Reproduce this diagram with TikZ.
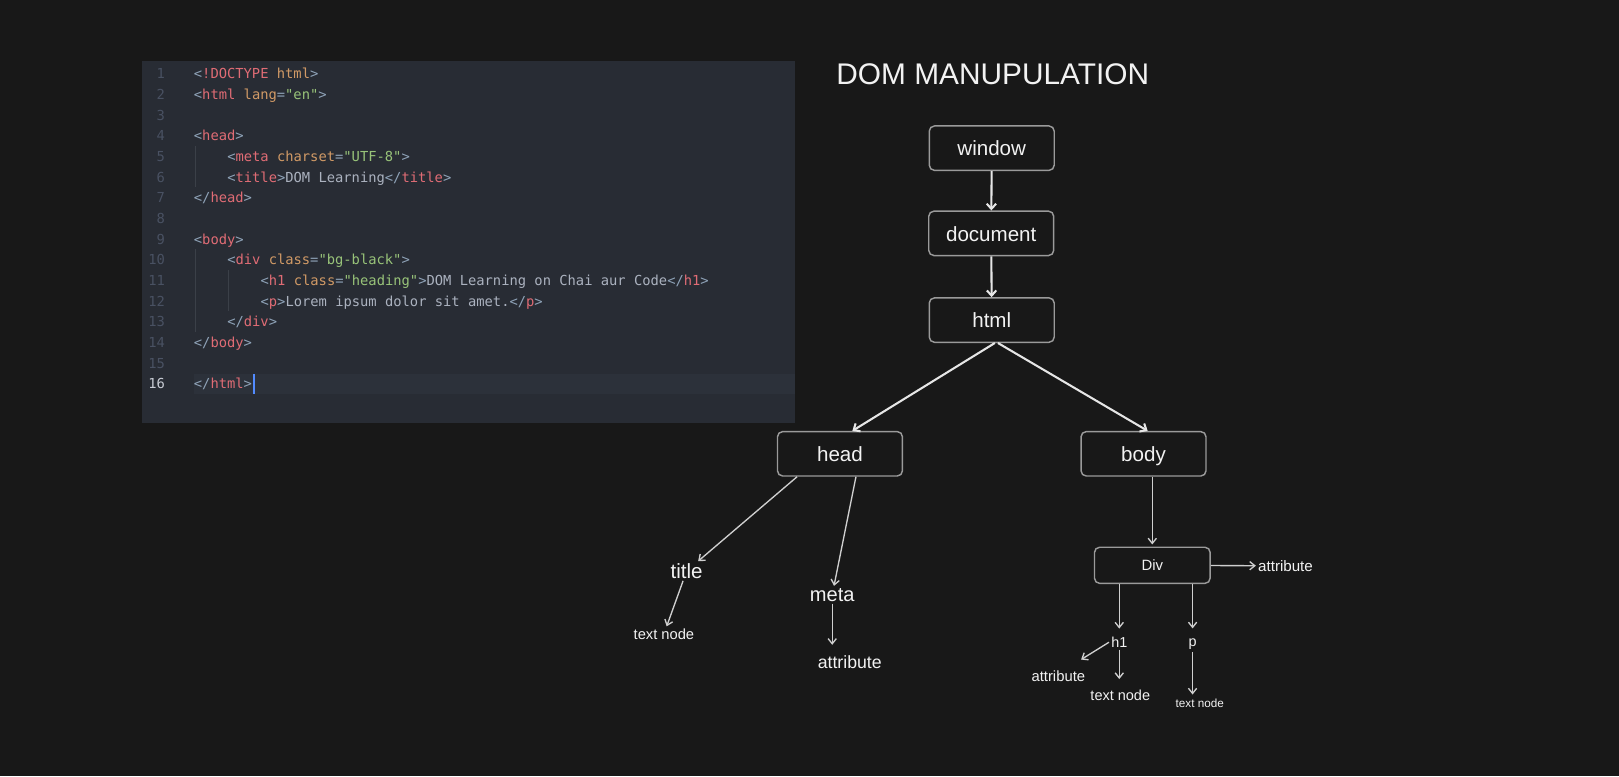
\documentclass[tikz,border=0pt]{standalone}
\usepackage{fontspec}
\setmainfont{Liberation Sans}
\newfontfamily\codefont{DejaVu Sans Mono}
\usetikzlibrary{arrows.meta,calc}
\definecolor{bgc}{HTML}{181818}
\definecolor{panel}{HTML}{282C34}
\definecolor{curline}{HTML}{2C313A}
\definecolor{lnum}{HTML}{495162}
\definecolor{lnumcur}{HTML}{C8CCD4}
\definecolor{ctagc}{HTML}{E06C75}
\definecolor{cattrc}{HTML}{D19A66}
\definecolor{cstrc}{HTML}{98C379}
\definecolor{cpunc}{HTML}{8FA3B8}
\definecolor{ctxtc}{HTML}{ABB2BF}
\definecolor{guide}{HTML}{3B4048}
\definecolor{cursorc}{HTML}{528BFF}
\definecolor{boxline}{HTML}{9A9A9A}
\definecolor{arrowc}{HTML}{E6E6E6}
\definecolor{arrowc2}{HTML}{CFCFCF}
\definecolor{txt}{HTML}{F2F2F2}
\newcommand\ktag[1]{\textcolor{ctagc}{#1}}
\newcommand\kattr[1]{\textcolor{cattrc}{#1}}
\newcommand\kstr[1]{\textcolor{cstrc}{#1}}
\newcommand\kpun[1]{\textcolor{cpunc}{#1}}
\newcommand\ktxt[1]{\textcolor{ctxtc}{#1}}
\newcommand\fsz[1]{\fontsize{#1}{#1}\selectfont}
\begin{document}
\begin{tikzpicture}[x=1bp,y=-1bp,
  codeline/.style={anchor=base west, inner sep=0, font=\codefont\fsz{13.4}},
  lno/.style={anchor=base east, inner sep=0, font=\codefont\fsz{13.4}, text=lnum},
  domnode/.style={draw=boxline, line width=1.4bp, rounded corners=5bp, fill=bgc, text=txt, font=\fsz{20}, minimum width=121bp, minimum height=43bp, inner sep=0, text height=17bp, text depth=2bp},
  lbl/.style={text=txt, inner sep=2bp},
  arrA/.style={draw=arrowc, line width=2bp, -{Straight Barb[length=5bp,width=9bp]}},
  arrB/.style={draw=arrowc2, line width=1.3bp, -{Straight Barb[length=5bp,width=8bp]}},
]
\useasboundingbox (0,0) rectangle (1568,751.6);
\fill[bgc] (0,0) rectangle (1568,751.6);
% code panel
\fill[panel] (137.5,59) rectangle (770,410);
\fill[curline] (188,362) rectangle (770,382);
\draw[guide, line width=1bp] (189,141.5) -- (189,181.5);
\draw[guide, line width=1bp] (189,241.5) -- (189,321.5);
\draw[guide, line width=1bp] (221.5,261.5) -- (221.5,301.5);
\foreach \n in {1,...,15} \node[lno] (n\n) at (160,{76.5+20*(\n-1)}) {\n};
\node[lno, text=lnumcur] (n16) at (160,376.5) {16};
\node[codeline] (l1) at (187.6,76.5) {\kpun{<}\ktag{!DOCTYPE} \kattr{html}\kpun{>}};
\node[codeline] (l2) at (187.6,96.5) {\kpun{<}\ktag{html} \kattr{lang}\kpun{=}\kstr{"en"}\kpun{>}};
\node[codeline] (l4) at (187.6,136.5) {\kpun{<}\ktag{head}\kpun{>}};
\node[codeline] (l5) at (219.9,156.5) {\kpun{<}\ktag{meta} \kattr{charset}\kpun{=}\kstr{"UTF-8"}\kpun{>}};
\node[codeline] (l6) at (219.9,176.5) {\kpun{<}\ktag{title}\kpun{>}\ktxt{DOM Learning}\kpun{</}\ktag{title}\kpun{>}};
\node[codeline] (l7) at (187.6,196.5) {\kpun{</}\ktag{head}\kpun{>}};
\node[codeline] (l9) at (187.6,236.5) {\kpun{<}\ktag{body}\kpun{>}};
\node[codeline] (l10) at (219.9,256.5) {\kpun{<}\ktag{div} \kattr{class}\kpun{=}\kstr{"bg-black"}\kpun{>}};
\node[codeline] (l11) at (252.2,276.5) {\kpun{<}\ktag{h1} \kattr{class}\kpun{=}\kstr{"heading"}\kpun{>}\ktxt{DOM Learning on Chai aur Code}\kpun{</}\ktag{h1}\kpun{>}};
\node[codeline] (l12) at (252.2,296.5) {\kpun{<}\ktag{p}\kpun{>}\ktxt{Lorem ipsum dolor sit amet.}\kpun{</}\ktag{p}\kpun{>}};
\node[codeline] (l13) at (219.9,316.5) {\kpun{</}\ktag{div}\kpun{>}};
\node[codeline] (l14) at (187.6,336.5) {\kpun{</}\ktag{body}\kpun{>}};
\node[codeline] (l16) at (187.6,376.5) {\kpun{</}\ktag{html}\kpun{>}};
\fill[cursorc] ($(l16.base east)+(1,-14.5)$) rectangle ++(2,20);
% DOM tree
\node[font=\fsz{29}, text=txt, inner sep=0] (ttl) at (961.5,72) {DOM MANUPULATION};
\node[domnode] (window) at (960.5,143.5) {window};
\node[domnode] (document) at (960,226) {document};
\node[domnode] (html) at (960.5,310) {html};
\node[domnode] (head) at (813.5,439.5) {head};
\node[domnode] (body) at (1107.5,439.5) {body};
\node[domnode, minimum width=112bp, minimum height=35bp, font=\fsz{14.5}, text height=11.5bp, text depth=1bp] (div) at (1116,547.5) {Div};
\node[lbl, font=\fsz{20}] (title) at (665,553) {title};
\node[lbl, font=\fsz{19.5}] (meta) at (806,576) {meta};
\node[lbl, font=\fsz{14.3}] (tn1) at (643,614) {text node};
\node[lbl, font=\fsz{17.2}] (attr1) at (823,641) {attribute};
\node[lbl, font=\fsz{14.7}] (attr2) at (1245,548) {attribute};
\node[lbl, font=\fsz{14}] (h1) at (1084,622) {h1};
\node[lbl, font=\fsz{14}] (p) at (1155,624) {p};
\node[lbl, font=\fsz{14.4}] (attr3) at (1025,655) {attribute};
\node[lbl, font=\fsz{14.1}] (tn2) at (1085,673) {text node};
\node[lbl, font=\fsz{11.4}] (tn3) at (1162,681) {text node};
% connectors
\draw[arrA] (window) -- (document);
\draw[arrA] (document) -- (html);
\draw[arrA] ([xshift=3bp]html.south) -- ([xshift=12bp]head.north);
\draw[arrA] ([xshift=6bp]html.south) -- ([xshift=4bp]body.north);
\draw[arrB] ([xshift=-41.5bp]head.south) -- (title);
\draw[arrB] ([xshift=15.5bp]head.south) -- (meta);
\draw[arrB] (title) -- (tn1);
\draw[arrB, shorten >=8bp] (meta) -- (meta |- attr1.north);
\draw[arrB, shorten >=2bp] (div.north |- body.south) -- (div);
\draw[arrB] (div) -- (attr2);
\draw[arrB, shorten >=6bp] (div.south -| h1) -- (h1);
\draw[arrB, shorten >=8bp] (div.south -| p) -- (p);
\draw[arrB] (h1.west) -- ($(attr3.north)+(22,-8.75)$);
\draw[arrB, shorten >=8bp] (h1) -- (h1 |- tn2.north);
\draw[arrB, shorten >=2bp] (p) -- (p |- tn3.north);
\end{tikzpicture}
\end{document}
